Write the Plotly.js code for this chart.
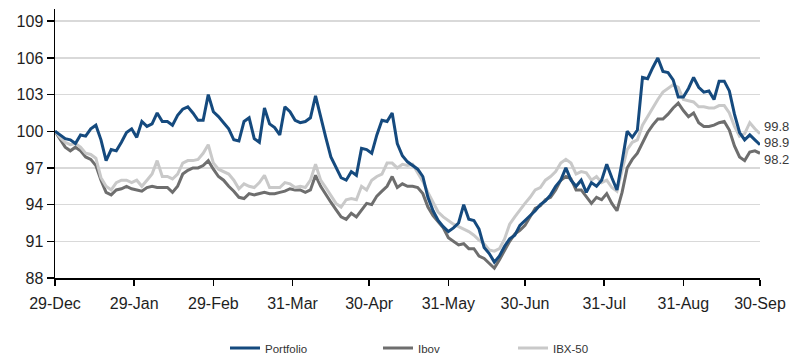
<!DOCTYPE html>
<html>
<head>
<meta charset="utf-8">
<script src="https://cdn.plot.ly/plotly-3.0.1.min.js"></script>
<style>
  html, body { margin: 0; padding: 0; background: #ffffff; }
  #chart { width: 797px; height: 356px; }
</style>
</head>
<body>
<div id="chart"></div>
<script>
// ---- Data ----
const dates = [
  "2015-12-29","2015-12-31",
  "2016-01-02","2016-01-04","2016-01-06","2016-01-08","2016-01-10","2016-01-12","2016-01-14","2016-01-16",
  "2016-01-18","2016-01-20","2016-01-22","2016-01-24","2016-01-26","2016-01-28","2016-01-30",
  "2016-02-01","2016-02-03","2016-02-05","2016-02-07","2016-02-09","2016-02-11","2016-02-13","2016-02-15",
  "2016-02-17","2016-02-19","2016-02-21","2016-02-23","2016-02-25","2016-02-27","2016-02-29",
  "2016-03-02","2016-03-04","2016-03-06","2016-03-08","2016-03-10","2016-03-12","2016-03-14","2016-03-16",
  "2016-03-18","2016-03-20","2016-03-22","2016-03-24","2016-03-26","2016-03-28","2016-03-30",
  "2016-04-01","2016-04-03","2016-04-05","2016-04-07","2016-04-09","2016-04-11","2016-04-13","2016-04-15",
  "2016-04-17","2016-04-19","2016-04-21","2016-04-23","2016-04-25","2016-04-27","2016-04-29",
  "2016-05-01","2016-05-03","2016-05-05","2016-05-07","2016-05-09","2016-05-11","2016-05-13","2016-05-15",
  "2016-05-17","2016-05-19","2016-05-21","2016-05-23","2016-05-25","2016-05-27","2016-05-29","2016-05-31",
  "2016-06-02","2016-06-04","2016-06-06","2016-06-08","2016-06-10","2016-06-12","2016-06-14","2016-06-16",
  "2016-06-18","2016-06-20","2016-06-22","2016-06-24","2016-06-26","2016-06-28","2016-06-30",
  "2016-07-02","2016-07-04","2016-07-06","2016-07-08","2016-07-10","2016-07-12","2016-07-14","2016-07-16",
  "2016-07-18","2016-07-20","2016-07-22","2016-07-24","2016-07-26","2016-07-28","2016-07-30",
  "2016-08-01","2016-08-03","2016-08-05","2016-08-07","2016-08-09","2016-08-11","2016-08-13","2016-08-15",
  "2016-08-17","2016-08-19","2016-08-21","2016-08-23","2016-08-25","2016-08-27","2016-08-29","2016-08-31",
  "2016-09-02","2016-09-04","2016-09-06","2016-09-08","2016-09-10","2016-09-12","2016-09-14","2016-09-16",
  "2016-09-18","2016-09-20","2016-09-22","2016-09-24","2016-09-26","2016-09-28","2016-09-30"
];

const portfolio = [
  100.0, 99.7, 99.4, 99.3, 99.0, 99.7, 99.6, 100.2, 100.5, 99.3,
  97.6, 98.5, 98.4, 99.1, 99.9, 100.2, 99.5, 100.8, 100.4, 100.6,
  101.5, 100.8, 100.8, 100.5, 101.3, 101.8, 102.0, 101.5, 100.9, 100.9,
  103.0, 101.6, 101.2, 100.7, 100.2, 99.3, 99.2, 100.8, 101.1, 99.4,
  99.1, 101.9, 100.6, 100.3, 99.7, 102.0, 101.6, 100.9, 100.7, 100.8,
  101.1, 102.9, 101.1, 99.5, 97.9, 97.0, 96.2, 96.0, 96.7, 96.4,
  98.6, 98.5, 98.2, 99.7, 100.9, 100.8, 101.5, 99.0, 98.0, 97.5,
  97.2, 96.9, 96.3, 94.6, 93.5, 92.7, 92.2, 91.8, 92.1, 92.5,
  94.0, 92.8, 92.7, 92.0, 90.5, 90.0, 89.3, 89.8, 90.6, 91.2,
  91.5, 92.3, 92.7, 93.1, 93.5, 94.0, 94.3, 94.8, 95.5, 96.0,
  97.0, 96.0, 95.5, 96.0, 95.0, 95.8, 95.5, 96.0, 97.3, 96.2,
  95.2, 97.5, 100.0, 99.5, 100.1, 104.4, 104.3, 105.2, 106.0, 104.9,
  104.8, 104.2, 102.8, 102.8, 103.5, 104.4, 103.6, 103.2, 103.3, 102.6,
  104.1, 104.1, 103.3, 101.4, 99.9, 99.3, 99.7, 99.3, 98.9
];

const ibov = [
  100.0, 99.3, 98.7, 98.4, 98.7, 98.4, 97.9, 97.7, 97.2, 96.0,
  95.0, 94.8, 95.2, 95.3, 95.5, 95.3, 95.2, 95.1, 95.4, 95.5,
  95.4, 95.4, 95.4, 95.0, 95.5, 96.5, 96.8, 97.0, 97.0, 97.2,
  97.6, 96.9, 96.3, 96.0, 95.5, 95.1, 94.6, 94.5, 94.9, 94.8,
  94.9, 95.0, 94.9, 94.9, 95.0, 95.1, 95.3, 95.2, 95.2, 95.0,
  95.2, 96.4, 95.5, 94.8, 94.2, 93.6, 93.0, 92.8, 93.3, 93.0,
  93.6, 94.1, 94.0, 94.7, 95.1, 95.5, 96.3, 95.4, 95.7, 95.5,
  95.5, 95.4, 94.9, 93.8, 93.1, 92.6, 92.1, 91.3, 91.0, 90.7,
  90.8, 90.4, 90.4, 89.8, 89.6, 89.2, 88.8, 89.5, 90.3, 91.0,
  91.6, 91.9, 92.3, 93.0, 93.7, 93.9, 94.4, 94.6, 95.2, 96.0,
  96.3, 96.1, 95.2, 95.2, 94.6, 94.1, 94.6, 94.4, 94.9, 94.1,
  93.5, 95.0, 97.0, 97.7, 98.2, 99.1, 99.9, 100.5, 101.0, 101.0,
  101.4, 101.9, 102.3, 101.7, 101.2, 101.5, 100.7, 100.4, 100.4, 100.5,
  100.7, 100.8, 100.1, 98.8, 97.9, 97.6, 98.3, 98.4, 98.2
];

const ibx50 = [
  100.0, 99.5, 99.1, 98.9, 99.0, 98.7, 98.2, 98.1, 97.8, 96.2,
  95.5, 95.2, 95.8, 96.0, 96.0, 95.8, 96.0, 95.5, 96.0, 96.5,
  97.6, 96.3, 96.3, 96.1, 96.5, 97.4, 97.6, 97.6, 97.7, 98.2,
  98.9, 97.4, 96.9, 96.7, 96.5, 96.0, 95.3, 95.7, 95.5, 95.4,
  95.8, 96.4, 95.4, 95.4, 95.4, 95.8, 95.7, 95.4, 95.5, 95.4,
  96.0, 97.3, 96.0, 95.4, 94.7, 94.1, 93.8, 94.4, 94.5, 94.4,
  95.5, 95.2, 96.0, 96.3, 96.5, 97.4, 97.4, 97.0, 97.3, 97.2,
  97.3, 96.6, 95.9, 95.0, 94.2, 93.4, 93.0, 92.7, 92.4, 92.2,
  92.0, 91.8, 91.5, 91.1, 90.8, 90.3, 90.2, 90.4, 91.2, 92.4,
  93.0, 93.6, 94.1, 94.6, 95.2, 95.4, 96.0, 96.3, 96.7, 97.4,
  97.7, 97.4, 96.5, 96.7, 96.6, 96.0, 96.3, 95.8, 96.0, 95.4,
  95.1, 96.8, 98.5, 99.1, 99.3, 100.5, 101.2, 102.0, 102.6, 103.2,
  103.5, 103.8, 103.6, 102.6, 102.5, 102.4, 102.0, 102.0, 101.9, 101.9,
  102.1, 102.1, 101.5, 100.4, 99.6, 99.8, 100.7, 100.2, 99.8
];

const seriesNames = ["Portfolio", "Ibov", "IBX-50"];
const xTickVals = ["2015-12-29","2016-01-29","2016-02-29","2016-03-31","2016-04-30",
                   "2016-05-31","2016-06-30","2016-07-31","2016-08-31","2016-09-30"];
const xTickText = ["29-Dec","29-Jan","29-Feb","31-Mar","30-Apr",
                   "31-May","30-Jun","31-Jul","31-Aug","30-Sep"];
const yTickVals = [88, 91, 94, 97, 100, 103, 106, 109];

// ---- Styles ----
const FONT = "Liberation Sans, Arial, Helvetica, sans-serif";
const NARROW = "Liberation Sans Narrow, Arial Narrow, Liberation Sans, Arial, sans-serif";
const cBlue = "#154a7e";
const cDark = "#6e6e6e";
const cLight = "#c9c9c9";

const traces = [
  { x: dates, y: ibov, name: seriesNames[1], type: "scatter", mode: "lines",
    line: { color: cDark, width: 3 }, legend: "legend2", hoverinfo: "x+y+name" },
  { x: dates, y: ibx50, name: seriesNames[2], type: "scatter", mode: "lines",
    line: { color: cLight, width: 3 }, legend: "legend3", hoverinfo: "x+y+name" },
  { x: dates, y: portfolio, name: seriesNames[0], type: "scatter", mode: "lines",
    line: { color: cBlue, width: 3 }, legend: "legend", hoverinfo: "x+y+name" }
];

const last = a => a[a.length - 1];
const endLabels = [
  { v: last(ibx50), shift: 7 },
  { v: last(portfolio), shift: 2 },
  { v: last(ibov), shift: -6 }
];

const legendBase = {
  orientation: "h", xref: "container", yref: "container",
  xanchor: "left", yanchor: "middle", y: 8 / 356,
  bgcolor: "rgba(0,0,0,0)", borderwidth: 0,
  font: { family: NARROW, size: 11.5, color: "#333333" }
};

const layout = {
  width: 797, height: 356,
  margin: { l: 55, r: 37, t: 9, b: 78, pad: 0 },
  paper_bgcolor: "#ffffff", plot_bgcolor: "#ffffff",
  font: { family: FONT, size: 16, color: "#1e1e1e" },
  showlegend: true,
  legend:  Object.assign({}, legendBase, { x: 225 / 797 }),
  legend2: Object.assign({}, legendBase, { x: 378 / 797 }),
  legend3: Object.assign({}, legendBase, { x: 513 / 797 }),
  xaxis: {
    type: "date",
    range: ["2015-12-29", "2016-09-30"],
    tickmode: "array", tickvals: xTickVals, ticktext: xTickText,
    ticks: "outside", ticklen: 6, tickwidth: 1.5, tickcolor: "#000000",
    showline: true, linecolor: "#000000", linewidth: 1.5,
    showgrid: false, zeroline: false,
    tickfont: { family: FONT, size: 16, color: "#1e1e1e" },
    ticklabelstandoff: 4
  },
  yaxis: {
    range: [88, 110],
    tickmode: "array", tickvals: yTickVals,
    ticks: "outside", ticklen: 7, tickwidth: 1.5, tickcolor: "#000000",
    showline: true, linecolor: "#000000", linewidth: 1.5,
    showgrid: true, gridcolor: "#d9d9d9", gridwidth: 1.5,
    zeroline: false,
    tickfont: { family: FONT, size: 16, color: "#1e1e1e" }
  },
  annotations: endLabels.map(e => ({
    xref: "paper", yref: "y", x: 1, y: e.v,
    xanchor: "left", yanchor: "middle", xshift: 3, yshift: e.shift,
    text: e.v.toFixed(1), showarrow: false, borderpad: 0,
    font: { family: NARROW, size: 13, color: "#3a3a3a" }
  }))
};

Plotly.newPlot("chart", traces, layout, { displayModeBar: false, staticPlot: true });
</script>
</body>
</html>
